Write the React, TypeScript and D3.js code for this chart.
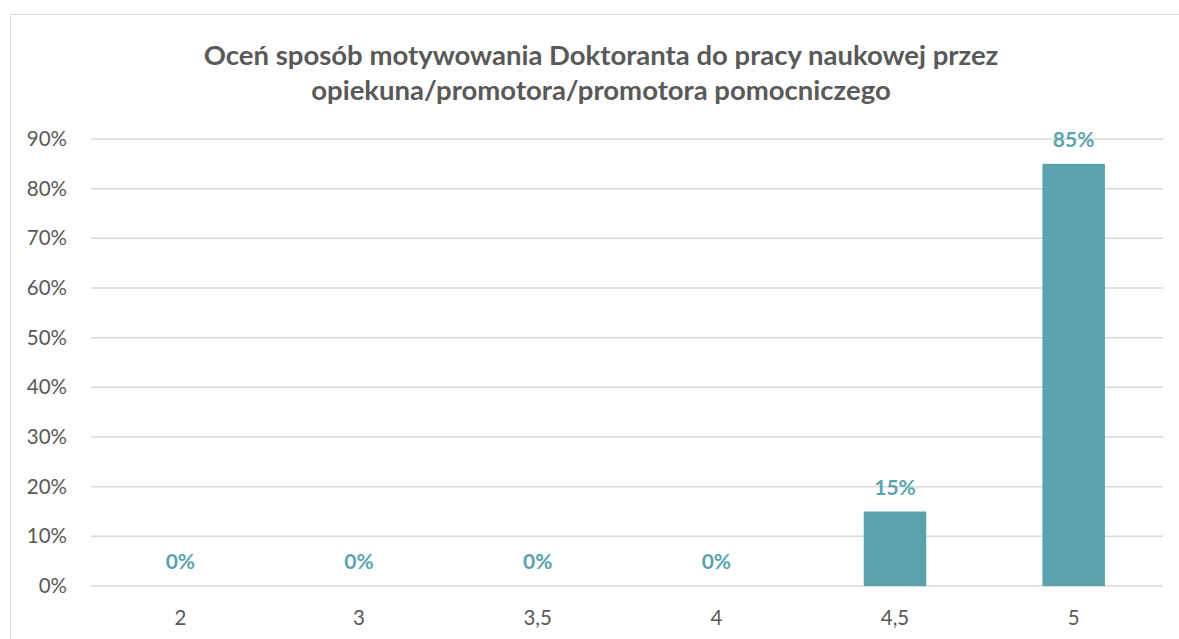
import React from "react";
import * as d3 from "d3";

const categories = ["2", "3", "3,5", "4", "4,5", "5"];
const values = [0, 0, 0, 0, 15, 85];
const yTicks = [0, 10, 20, 30, 40, 50, 60, 70, 80, 90];
const titleLines = [
  "Oceń sposób motywowania Doktoranta do pracy naukowej przez",
  "opiekuna/promotora/promotora pomocniczego",
];

const W = 1179;
const H = 639;
const left = 91;
const right = 1163;
const top = 139;
const bottom = 586;
const FONT = "Lato, 'Open Sans', sans-serif";

export default function App() {
  const x = d3.scaleBand<string>().domain(categories).range([left, right]).paddingInner(0.65).paddingOuter(0.325);
  const y = d3.scaleLinear().domain([0, 90]).range([bottom, top]);
  return (
    <svg width={W} height={H} style={{ position: "absolute", left: 0, top: 0, background: "#fff" }}>
      <rect x={10.5} y={14.5} width={1185} height={640} fill="#fff" stroke="#d9d9d9" strokeWidth={1} />
      {titleLines.map((t, i) => (
        <text key={i} x={601} y={65 + i * 35} textAnchor="middle" fontFamily={FONT} fontWeight="bold" fontSize={27.5} fill="#595959">
          {t}
        </text>
      ))}
      {yTicks.map((t) => (
        <g key={t}>
          <line x1={left} x2={right} y1={y(t)} y2={y(t)} stroke="#d9d9d9" strokeWidth={1.5} />
          <text x={67} y={y(t) + 7} textAnchor="end" fontFamily={FONT} fontSize={20.5} fill="#595959">
            {t}%
          </text>
        </g>
      ))}
      {categories.map((c, i) => (
        <g key={c}>
          <rect x={x(c)} y={y(values[i])} width={x.bandwidth()} height={bottom - y(values[i])} fill="#5ba3ae" />
          <text x={(x(c) as number) + x.bandwidth() / 2} y={y(values[i]) - 17} textAnchor="middle" fontFamily={FONT} fontWeight="bold" fontSize={21} fill="#5ba3ae">
            {values[i]}%
          </text>
          <text x={(x(c) as number) + x.bandwidth() / 2} y={625} textAnchor="middle" fontFamily={FONT} fontSize={20.5} fill="#595959">
            {c}
          </text>
        </g>
      ))}
    </svg>
  );
}
